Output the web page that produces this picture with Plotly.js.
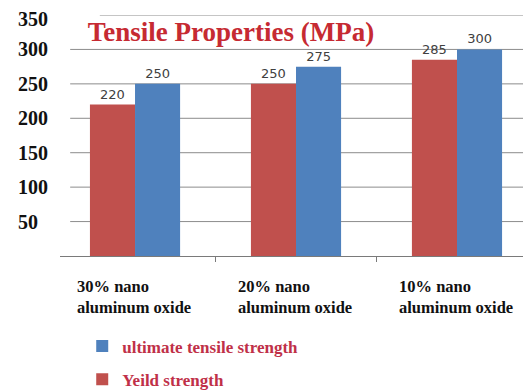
<!DOCTYPE html>
<html>
<head>
<meta charset="utf-8">
<script src="https://cdn.plot.ly/plotly-3.0.1.min.js"></script>
<style>html,body{margin:0;padding:0;background:#fff;}#chart{width:523px;height:392px;}</style>
</head>
<body>
<div id="chart"></div>
<script>
var categories = ["30% nano<br>aluminum oxide", "20% nano<br>aluminum oxide", "10% nano<br>aluminum oxide"];
var yieldStrength = [220, 250, 285];
var ultimateStrength = [250, 275, 300];
var seriesNames = ["Yeild strength", "ultimate tensile strength"];
var yTicks = [50, 100, 150, 200, 250, 300, 350];
var chartTitle = "Tensile Properties (MPa)";

var xIdx = categories.map(function (c, i) { return i; });

var traces = [
  {
    type: "bar", name: seriesNames[0], x: xIdx, y: yieldStrength,
    marker: { color: "#c0504d" }, legendgroup: "a", legendrank: 2,
    text: yieldStrength.map(String), textposition: "outside",
    textfont: { family: "DejaVu Sans", size: 13, color: "#404040" },
    cliponaxis: false, hoverinfo: "none"
  },
  {
    type: "bar", name: seriesNames[1], x: xIdx, y: ultimateStrength,
    marker: { color: "#4f81bd" }, legendgroup: "b", legendrank: 1,
    text: ultimateStrength.map(String), textposition: "outside",
    textfont: { family: "DejaVu Sans", size: 13, color: "#404040" },
    cliponaxis: false, hoverinfo: "none"
  }
];

var serif = "Liberation Serif, Times New Roman, serif";
var annotations = [];
yTicks.forEach(function (v) {
  annotations.push({
    xref: "paper", yref: "y", x: -0.095, y: v, xanchor: "left", yanchor: "middle",
    yshift: v === 350 ? -4 : 0,
    text: String(v), showarrow: false,
    font: { family: serif, size: 20, color: "#111", weight: "bold" }
  });
});
categories.forEach(function (c, i) {
  annotations.push({
    xref: "x", yref: "paper", x: i, y: -0.08, xanchor: "left", yanchor: "top",
    xshift: -60, align: "left", text: "<b>" + c + "</b>", showarrow: false,
    font: { family: serif, size: 16.5, color: "#111" }
  });
});

var shapes = yTicks.map(function (v) {
  return {
    type: "line", xref: "paper", yref: "y",
    x0: v === 350 ? 0.086 : 0.022, x1: 1, y0: v, y1: v,
    line: { color: "#8c8c8c", width: 1 }, layer: "below"
  };
});

var layout = {
  width: 523, height: 392,
  margin: { l: 60, r: 0, t: 15, b: 136 },
  paper_bgcolor: "#fff", plot_bgcolor: "#fff",
  barmode: "group", bargap: 0.44, bargroupgap: 0,
  showlegend: true,
  title: {
    text: "<b>" + chartTitle + "</b>",
    xref: "paper", x: 0.06, xanchor: "left",
    yref: "container", y: 0.92, yanchor: "middle",
    font: { family: serif, size: 27, color: "#c62a32" }
  },
  xaxis: {
    range: [-0.466, 2.41], showgrid: false, zeroline: false,
    showline: true, linecolor: "#7a7a7a", linewidth: 1,
    tickvals: [0.5, 1.5], ticks: "outside", ticklen: 5, tickcolor: "#7a7a7a",
    showticklabels: false, fixedrange: true
  },
  yaxis: {
    range: [0, 350], showgrid: false, zeroline: false, showline: false,
    showticklabels: false, ticks: "", fixedrange: true
  },
  legend: {
    xref: "paper", yref: "container", x: 0.048, y: 0.162, xanchor: "left", yanchor: "top",
    traceorder: "grouped", tracegroupgap: 8,
    font: { family: serif, size: 17, color: "#c03048", weight: "bold" },
    bgcolor: "rgba(0,0,0,0)"
  },
  annotations: annotations,
  shapes: shapes
};

Plotly.newPlot("chart", traces, layout, { displayModeBar: false, staticPlot: true });
</script>
</body>
</html>
